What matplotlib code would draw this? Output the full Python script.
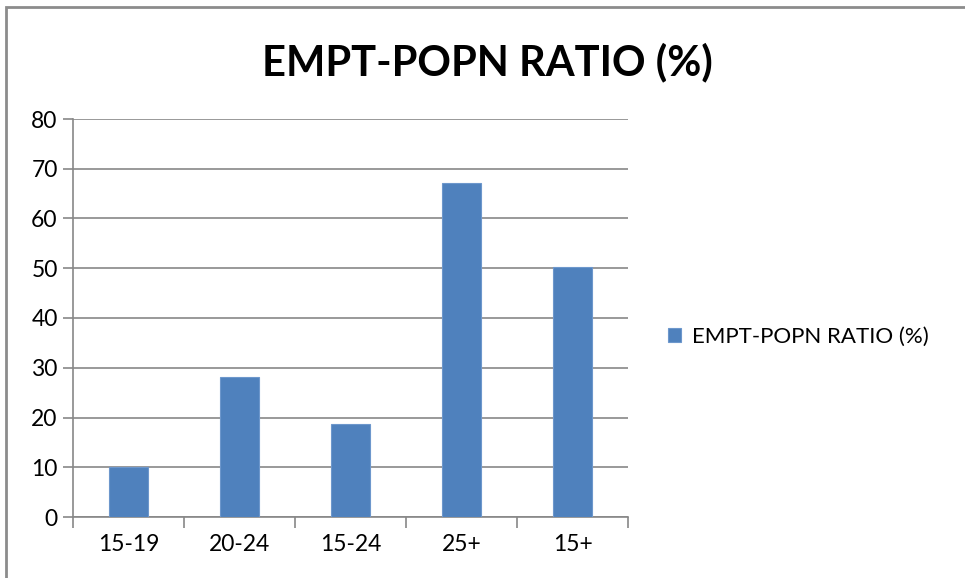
import matplotlib.pyplot as plt
from matplotlib.patches import Rectangle
import numpy as np

categories = ['15-19', '20-24', '15-24', '25+', '15+']
ratio = [10.0, 28.2, 18.7, 67.1, 50.3]
yticks = [0, 10, 20, 30, 40, 50, 60, 70, 80]
series_name = 'EMPT-POPN RATIO (%)'

bar_color = '#4f81bd'
grid_color = '#878787'

plt.rcParams['font.family'] = ['Lato', 'DejaVu Sans']

fig = plt.figure(figsize=(9.65, 5.78), dpi=100)
ax = fig.add_axes([73 / 965, 1 - 517 / 578, (628 - 73) / 965, (517 - 119) / 578])

x = np.arange(len(categories))
ax.bar(x, ratio, width=0.35, color=bar_color, edgecolor='#6d97cc', linewidth=0.8,
       label=series_name, zorder=3)

ax.set_xlim(-0.5, len(categories) - 0.5)
ax.set_ylim(0, 80)
ax.set_yticks(yticks)
ax.yaxis.grid(True, color=grid_color, linewidth=1.2, zorder=0)

# x ticks sit between categories, labels under the bars
ax.set_xticks(np.arange(len(categories) + 1) - 0.5)
ax.set_xticklabels([])
ax.set_xticks(x, minor=True)
ax.set_xticklabels(categories, minor=True)
ax.tick_params(axis='x', which='major', length=8, color=grid_color, width=1.2)
ax.tick_params(axis='x', which='minor', length=0, pad=12, labelsize=16.5, labelcolor='#000000')
ax.tick_params(axis='y', length=7, color=grid_color, width=1.2, pad=4, labelsize=16.5)

for side in ['top', 'right']:
    ax.spines[side].set_visible(False)
ax.spines['left'].set_color(grid_color)
ax.spines['bottom'].set_color(grid_color)
ax.spines['left'].set_linewidth(1.2)
ax.spines['bottom'].set_linewidth(1.2)

fig.text(487 / 965, 1 - 62 / 578, series_name, ha='center', va='center',
         fontsize=30, fontweight='bold')

fig.legend(loc='center left', bbox_to_anchor=(648 / 965, 1 - 337 / 578), frameon=False,
           fontsize=16, handlelength=0.6, handleheight=0.6, handletextpad=0.5)

# outer frame of the chart box
fig.patches.append(Rectangle((6 / 965, -0.05), 1.2, 1 - 7 / 578 + 0.05,
                             transform=fig.transFigure, fill=False,
                             edgecolor='#8c8c8c', linewidth=2))

fig.savefig('out.png', dpi=100)
